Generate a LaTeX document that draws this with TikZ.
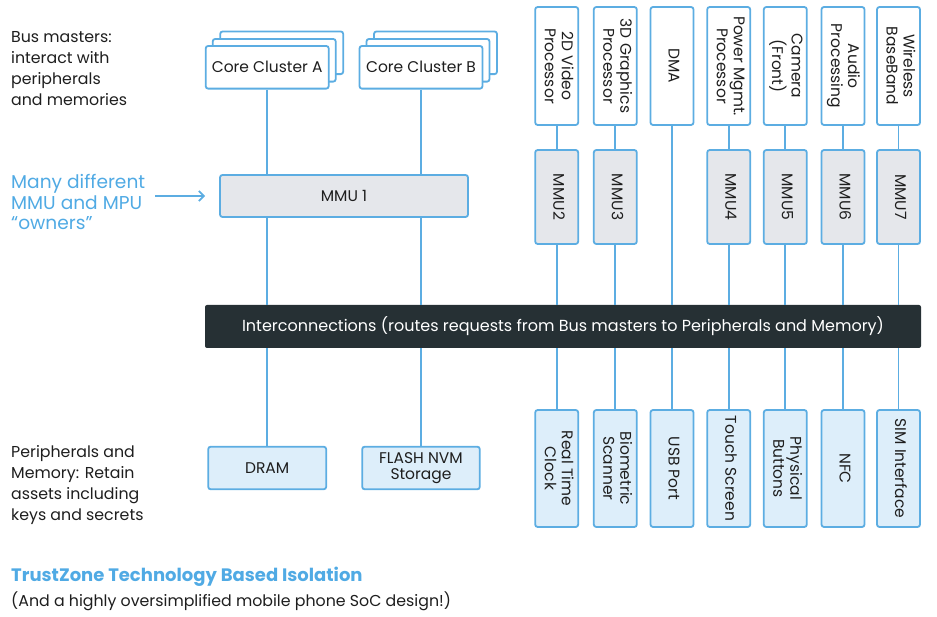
\documentclass[tikz,border=0pt]{standalone}
\usepackage{fontspec}
\setmainfont{Poppins}
\usetikzlibrary{arrows.meta}
\definecolor{lineblue}{RGB}{92,173,226}
\definecolor{lightblue}{RGB}{221,238,250}
\definecolor{mmugray}{RGB}{229,231,235}
\definecolor{bardark}{RGB}{38,48,52}
\definecolor{txt}{RGB}{30,30,30}
\definecolor{bluetxt}{RGB}{80,170,228}
\newcommand\rot[1]{\rotatebox{-90}{\begin{tabular}{@{}c@{}}#1\end{tabular}}}
\tikzset{
  box/.style={draw=lineblue, line width=1.8pt, rounded corners=2.5pt, inner sep=0pt, align=center, text=txt, font=\fontsize{15.5}{17}\selectfont},
  whitebox/.style={box, fill=white},
  mmubox/.style={box, fill=mmugray},
  periph/.style={box, fill=lightblue},
  colbox/.style={minimum width=43pt},
  conn/.style={draw=lineblue, line width=1.8pt},
  note/.style={anchor=north west, inner sep=0pt, align=left, text=txt, font=\fontsize{15.8}{21}\selectfont},
  bluenote/.style={anchor=north west, inner sep=0pt, align=left, text=bluetxt, font=\fontsize{18.6}{20.5}\selectfont},
}
\begin{document}
\begin{tikzpicture}[x=1pt,y=-1pt]
\useasboundingbox (0,0) rectangle (937,617);
% left notes
\node[note] (busm) at (11,31.5) {Bus masters:\\interact with\\peripherals\\and memories};
\node[bluenote] (owners) at (11,174.5) {Many different\\MMU and MPU\\“owners”};
\node[note] (perm) at (11,445.5) {Peripherals and\\Memory: Retain\\assets including\\keys and secrets};
\node[anchor=north west, inner sep=0pt, text=bluetxt, font=\fontsize{18}{20}\selectfont\bfseries] (title) at (11,567) {TrustZone Technology Based Isolation};
\node[anchor=north west, inner sep=0pt, text=txt, font=\fontsize{15.8}{18}\selectfont] (sub) at (11,592) {(And a highly oversimplified mobile phone SoC design!)};
% core clusters
\foreach \d/\n in {14.5/3,7/2}{
  \node[whitebox, minimum width=123pt, minimum height=42.7pt] (cA\n) at (267.2+\d,67.3-\d) {};
  \node[whitebox, minimum width=123pt, minimum height=42.7pt] (cB\n) at (421+\d,67.3-\d) {};
}
\node[whitebox, minimum width=123pt, minimum height=42.7pt] (coreA) at (267.2,67.3) {Core Cluster A};
\node[whitebox, minimum width=123pt, minimum height=42.7pt] (coreB) at (421,67.3) {Core Cluster B};
% MMU1
\node[mmubox, minimum width=248pt, minimum height=42pt] (mmu1) at (344,196) {MMU 1};
% bar
\node[fill=bardark, rounded corners=2pt, minimum width=716pt, minimum height=43pt, text=white, font=\fontsize{16}{17}\selectfont] (bar) at (563,326.5) {Interconnections (routes requests from Bus masters to Peripherals and Memory)};
% memories
\node[periph, minimum width=118pt, minimum height=42.6pt] (dram) at (267.2,468) {DRAM};
\node[periph, minimum width=117.6pt, minimum height=42.6pt, font=\fontsize{15.5}{15.5}\selectfont] (flash) at (421,468) {FLASH NVM\\Storage};
% columns
\foreach \x/\n/\t/\m/\b in {
  556.7/c1/2D Video\\Processor/MMU2/Real Time\\Clock,
  615.3/c2/3D Graphics\\Processor/MMU3/Biometric\\Scanner,
  672/c3/DMA//USB Port,
  728.7/c4/Power Mgmt.\\Processor/MMU4/Touch Screen,
  785.3/c5/Camera\\(Front)/MMU5/Physical\\Buttons,
  843/c6/Audio\\Processing/MMU6/NFC,
  898.5/c7/Wireless\\BaseBand/MMU7/SIM Interface}{
  \node[whitebox, colbox, minimum height=118pt] (\n t) at (\x,66) {\rot{\t}};
  \node[periph, colbox, minimum height=117pt] (\n b) at (\x,468.5) {\rot{\b}};
  \draw[conn] (\n b.north) -- (\n b.north |- bar.south);
}
\foreach \n/\m in {c1/MMU2,c2/MMU3,c4/MMU4,c5/MMU5,c6/MMU6,c7/MMU7}{
  \node[mmubox, colbox, minimum height=94pt] (\n m) at (\n t.south |- 0,197) {\rot{\m}};
  \draw[conn] (\n t.south) -- (\n m.north);
  \draw[conn] (\n m.south) -- (\n m.south |- bar.north);
}
\draw[conn] (c3t.south) -- (c3t.south |- bar.north);
% core connectors
\draw[conn] (coreA.south) -- (coreA.south |- mmu1.north);
\draw[conn] (coreA.south |- mmu1.south) -- (coreA.south |- bar.north);
\draw[conn] (coreB.south) -- (coreB.south |- mmu1.north);
\draw[conn] (coreB.south |- mmu1.south) -- (coreB.south |- bar.north);
\draw[conn] (dram.north |- bar.south) -- (dram.north);
\draw[conn] (flash.north |- bar.south) -- (flash.north);
% arrow
\draw[conn, -{Straight Barb[length=5pt,width=10pt]}, shorten <=10pt, shorten >=14pt] (owners.east |- mmu1.west) -- (mmu1.west);
\end{tikzpicture}
\end{document}
